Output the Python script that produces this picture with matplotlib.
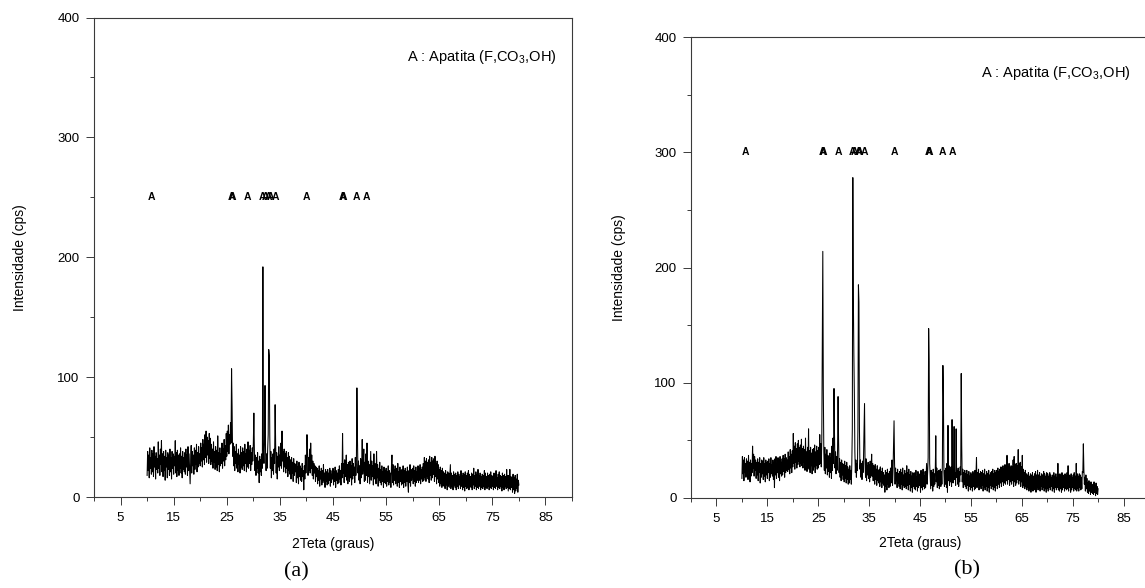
import numpy as np
import matplotlib
matplotlib.use("Agg")
import matplotlib.pyplot as plt
from matplotlib.ticker import FixedLocator, MultipleLocator

plt.rcParams['font.family'] = ['Liberation Sans', 'DejaVu Sans']
plt.rcParams['mathtext.fontset'] = 'custom'
plt.rcParams['mathtext.rm'] = 'Liberation Sans'
plt.rcParams['mathtext.default'] = 'regular'

# 2-theta grid: 10.0 .. 80.0 deg, step 0.1
two_theta_start = 10.0
two_theta_step = 0.1

# Pattern (a) intensities (cps), one row per degree (10.0 -> 79.9), then 80.0
intens_a = [
    18, 38, 22, 35, 16, 41, 24, 33, 19, 39,
    21, 36, 17, 42, 25, 34, 15, 37, 23, 32,
    20, 46, 24, 35, 18, 40, 27, 47, 21, 36,
    17, 38, 22, 34, 14, 39, 25, 33, 16, 37,
    23, 35, 18, 40, 21, 33, 15, 38, 24, 36,
    19, 34, 26, 47, 20, 37, 17, 39, 22, 35,
    18, 36, 24, 41, 20, 34, 16, 38, 23, 33,
    21, 37, 19, 40, 25, 35, 18, 42, 22, 36,
    24, 11, 30, 43, 20, 38, 26, 35, 19, 41,
    23, 39, 27, 44, 21, 37, 25, 42, 28, 36,
    26, 45, 30, 41, 25, 48, 31, 44, 27, 52,
    33, 55, 29, 50, 35, 47, 28, 53, 32, 49,
    27, 44, 30, 40, 24, 46, 29, 38, 23, 42,
    25, 39, 22, 51, 27, 37, 21, 41, 26, 36,
    28, 45, 24, 40, 30, 48, 26, 43, 31, 53,
    34, 55, 38, 60, 36, 52, 44, 62, 45, 107,
    75, 34, 45, 26, 42, 22, 38, 28, 44, 24,
    36, 21, 40, 27, 35, 20, 42, 25, 37, 23,
    41, 26, 38, 22, 44, 28, 36, 21, 40, 25,
    46, 24, 39, 28, 43, 22, 37, 27, 41, 30,
    45, 70, 38, 22, 35, 18, 33, 24, 37, 20,
    30, 12, 34, 21, 31, 18, 36, 24, 192, 40,
    28, 45, 93, 38, 22, 36, 24, 40, 52, 123,
    118, 50, 24, 38, 16, 33, 22, 36, 19, 40,
    28, 77, 45, 20, 37, 15, 34, 25, 42, 22,
    35, 26, 45, 24, 55, 30, 38, 21, 40, 25,
    36, 20, 38, 24, 33, 17, 37, 22, 34, 19,
    31, 15, 33, 20, 29, 13, 32, 18, 28, 21,
    27, 12, 30, 16, 25, 11, 29, 17, 26, 14,
    24, 13, 28, 17, 22, 6, 26, 15, 35, 20,
    30, 52, 38, 18, 33, 22, 40, 20, 45, 24,
    35, 18, 30, 15, 28, 20, 26, 13, 25, 17,
    24, 11, 22, 14, 26, 9, 21, 15, 24, 10,
    22, 12, 27, 14, 20, 8, 23, 13, 21, 10,
    23, 11, 20, 14, 24, 9, 22, 12, 19, 15,
    24, 10, 21, 13, 25, 8, 22, 14, 20, 11,
    23, 12, 26, 15, 22, 10, 28, 16, 53, 20,
    28, 12, 31, 17, 25, 35, 14, 27, 11, 29,
    24, 13, 30, 16, 26, 10, 32, 15, 28, 18,
    25, 12, 33, 18, 27, 91, 50, 20, 30, 14,
    26, 11, 32, 16, 24, 48, 19, 28, 40, 13,
    29, 14, 36, 18, 45, 12, 30, 17, 27, 11,
    25, 38, 14, 30, 17, 26, 10, 36, 15, 28,
    22, 11, 38, 16, 27, 9, 24, 14, 29, 12,
    23, 10, 26, 13, 21, 8, 25, 12, 22, 11,
    24, 9, 21, 13, 26, 10, 22, 12, 20, 8,
    25, 35, 12, 27, 10, 23, 14, 26, 11, 22,
    24, 9, 28, 12, 21, 8, 25, 13, 22, 10,
    23, 11, 26, 8, 22, 12, 24, 9, 21, 13,
    25, 10, 4, 22, 12, 27, 9, 23, 14, 20,
    24, 11, 26, 13, 22, 9, 25, 12, 21, 14,
    26, 12, 24, 14, 27, 11, 23, 15, 25, 13,
    28, 14, 33, 16, 30, 13, 32, 17, 29, 15,
    31, 12, 34, 18, 29, 14, 33, 16, 30, 19,
    32, 13, 34, 17, 28, 11, 30, 15, 27, 12,
    23, 9, 25, 11, 22, 8, 24, 10, 21, 9,
    20, 7, 22, 10, 19, 6, 21, 9, 20, 8,
    18, 27, 7, 20, 9, 18, 6, 21, 10, 19,
    8, 20, 6, 18, 9, 21, 7, 19, 10, 17,
    7, 22, 9, 18, 6, 20, 8, 19, 5, 21,
    9, 18, 7, 20, 8, 22, 6, 19, 9, 17,
    8, 20, 6, 19, 10, 24, 7, 18, 9, 21,
    6, 19, 8, 23, 7, 18, 9, 20, 6, 17,
    8, 19, 7, 18, 9, 22, 6, 20, 8, 17,
    7, 20, 9, 18, 6, 19, 8, 21, 7, 18,
    9, 17, 6, 20, 8, 19, 7, 22, 9, 16,
    6, 19, 8, 21, 7, 18, 9, 17, 5, 20,
    8, 18, 6, 19, 9, 17, 7, 23, 8, 18,
    5, 18, 7, 23, 6, 17, 8, 16, 4, 19,
    6, 16, 3, 18, 5, 15, 7, 19, 4, 14,
    10,
]

# Pattern (b) intensities (cps)
intens_b = [
    17, 36, 21, 33, 15, 35, 22, 30, 18, 34,
    20, 32, 16, 37, 23, 31, 14, 33, 19, 30,
    22, 45, 26, 38, 19, 36, 24, 33, 17, 31,
    20, 34, 15, 31, 22, 35, 13, 30, 18, 33,
    21, 32, 16, 35, 19, 30, 14, 33, 20, 31,
    17, 32, 22, 34, 15, 30, 18, 35, 21, 29,
    19, 33, 16, 31, 9, 34, 20, 36, 17, 30,
    22, 35, 18, 33, 15, 36, 21, 31, 19, 34,
    20, 37, 23, 34, 18, 38, 22, 35, 24, 33,
    23, 40, 25, 36, 21, 42, 26, 38, 22, 41,
    27, 56, 30, 45, 25, 48, 31, 43, 26, 47,
    29, 50, 32, 44, 27, 46, 30, 51, 28, 43,
    26, 45, 31, 42, 24, 52, 29, 40, 23, 44,
    27, 60, 25, 41, 22, 44, 28, 39, 21, 42,
    24, 43, 27, 46, 22, 40, 28, 45, 25, 41,
    26, 44, 29, 55, 30, 47, 27, 50, 130, 214,
    95, 40, 24, 44, 21, 38, 26, 42, 20, 37,
    23, 36, 18, 39, 22, 35, 17, 45, 24, 52,
    30, 95, 55, 26, 40, 21, 36, 24, 42, 88,
    50, 22, 34, 18, 31, 15, 33, 20, 30, 16,
    29, 14, 32, 17, 28, 13, 31, 16, 27, 12,
    25, 13, 28, 16, 24, 12, 30, 60, 278, 175,
    125, 90, 40, 22, 33, 18, 30, 24, 60, 185,
    170, 60, 25, 33, 18, 30, 16, 32, 22, 35,
    58, 82, 30, 18, 34, 15, 28, 20, 31, 17,
    29, 14, 32, 18, 27, 38, 19, 30, 15, 28,
    26, 12, 29, 16, 25, 11, 28, 15, 24, 13,
    25, 10, 27, 14, 23, 9, 26, 13, 22, 11,
    20, 5, 24, 10, 22, 7, 25, 12, 21, 9,
    23, 10, 26, 13, 22, 33, 11, 24, 48, 67,
    30, 12, 26, 15, 22, 9, 25, 13, 21, 10,
    23, 8, 25, 12, 22, 7, 26, 11, 20, 9,
    24, 10, 21, 8, 28, 11, 22, 7, 25, 12,
    20, 6, 23, 9, 19, 5, 22, 10, 21, 8,
    22, 7, 24, 10, 18, 6, 23, 9, 20, 11,
    21, 5, 24, 9, 22, 7, 25, 10, 19, 8,
    23, 9, 20, 30, 12, 22, 35, 147, 118, 30,
    20, 8, 24, 11, 22, 6, 25, 10, 21, 12,
    22, 54, 14, 26, 9, 23, 11, 24, 8, 21,
    25, 10, 23, 12, 30, 115, 88, 22, 10, 24,
    12, 26, 9, 30, 5, 63, 15, 28, 11, 24,
    14, 27, 10, 68, 20, 13, 25, 62, 16, 22,
    11, 60, 18, 24, 12, 26, 10, 23, 14, 27,
    20, 108, 45, 14, 25, 9, 22, 12, 24, 10,
    21, 8, 24, 11, 20, 6, 23, 10, 19, 7,
    22, 9, 20, 6, 23, 10, 21, 7, 24, 8,
    20, 35, 9, 22, 11, 25, 7, 21, 10, 23,
    8, 22, 11, 24, 6, 21, 9, 25, 7, 20,
    10, 23, 6, 21, 9, 24, 5, 20, 11, 22,
    8, 23, 10, 25, 7, 21, 9, 24, 6, 22,
    11, 24, 8, 26, 12, 23, 9, 25, 13, 27,
    10, 26, 14, 28, 11, 25, 13, 29, 12, 27,
    15, 37, 12, 27, 16, 30, 11, 26, 14, 28,
    12, 27, 15, 33, 10, 36, 14, 29, 11, 30,
    13, 28, 16, 42, 12, 30, 15, 31, 10, 27,
    14, 37, 9, 25, 11, 22, 8, 24, 10, 21,
    7, 20, 9, 22, 6, 19, 8, 21, 5, 20,
    8, 22, 6, 19, 9, 21, 7, 23, 5, 20,
    9, 24, 7, 20, 8, 22, 6, 19, 10, 21,
    7, 20, 9, 23, 6, 21, 8, 19, 5, 22,
    8, 21, 6, 19, 9, 22, 7, 20, 10, 18,
    6, 20, 8, 22, 5, 19, 9, 21, 7, 18,
    9, 30, 7, 20, 6, 21, 8, 19, 5, 22,
    7, 20, 9, 18, 6, 21, 8, 19, 7, 22,
    8, 28, 6, 20, 9, 19, 5, 21, 7, 18,
    9, 20, 6, 22, 8, 19, 7, 30, 6, 21,
    8, 19, 6, 21, 9, 20, 7, 18, 8, 23,
    22, 47, 25, 12, 18, 6, 20, 8, 17, 5,
    13, 4, 15, 6, 12, 3, 14, 5, 11, 4,
    12, 3, 14, 5, 11, 2, 13, 4, 10, 3,
    8,
]

# Apatite reflection marks (2-theta positions)
apatite_marks = [10.8, 25.9, 26.0, 28.9, 31.8, 32.2, 32.9, 33.2, 34.1,
                 40.0, 46.7, 46.9, 49.5, 51.3]
mark_level_a = 250
mark_level_b = 300

x_major_ticks = [5, 15, 25, 35, 45, 55, 65, 75, 85]
y_major_ticks = [0, 100, 200, 300, 400]

legend_text = r'A : Apatita (F,CO$_3$,OH)'
xlabel_text = '2Teta (graus)'
ylabel_text = 'Intensidade (cps)'

W, H = 1145, 588
fig = plt.figure(figsize=(W / 100, H / 100), dpi=100)


def px_axes(x0, x1, ytop, ybot):
    return [x0 / W, (H - ybot) / H, (x1 - x0) / W, (ybot - ytop) / H]


ax_a = fig.add_axes(px_axes(94, 572, 17.5, 497))
ax_b = fig.add_axes(px_axes(691, 1149, 37, 498))

spine_col = '#3a3a3a'


def draw(ax, intens, mark_level, text_x, text_y, ylab_x):
    tt = two_theta_start + two_theta_step * np.arange(len(intens))
    ax.plot(tt, intens, color='black', lw=0.75)
    for m in apatite_marks:
        ax.text(m, mark_level, 'A', ha='center', va='center', fontsize=7.5,
                fontweight='bold', color='black')
    ax.text(text_x, text_y, legend_text, ha='right', va='center', fontsize=10.5)
    ax.set_xlim(0, 90)
    ax.set_ylim(0, 400)
    ax.xaxis.set_major_locator(FixedLocator(x_major_ticks))
    ax.xaxis.set_minor_locator(MultipleLocator(10))
    ax.yaxis.set_major_locator(FixedLocator(y_major_ticks))
    ax.yaxis.set_minor_locator(MultipleLocator(50))
    ax.tick_params(which='major', direction='out', length=5.5, width=0.7,
                   color=spine_col, labelsize=9.5, pad=5)
    ax.tick_params(which='minor', direction='out', length=3, width=0.7,
                   color=spine_col)
    for s in ax.spines.values():
        s.set_color(spine_col)
        s.set_linewidth(0.8)
    ax.set_xlabel(xlabel_text, fontsize=10, va='center')
    ax.xaxis.set_label_coords(0.5, -0.097)
    ax.set_ylabel(ylabel_text, fontsize=10, va='center')
    ax.yaxis.set_label_coords(ylab_x, 0.5)


draw(ax_a, intens_a, mark_level_a, 87.0, 367, -0.155)
draw(ax_b, intens_b, mark_level_b, 86.3, 369, -0.157)

fig.text(296 / W, 1 - 572 / H, '(a)', ha='center', va='center', fontsize=16,
         family=['Liberation Serif', 'DejaVu Serif'])
fig.text(967 / W, 1 - 570 / H, '(b)', ha='center', va='center', fontsize=16,
         family=['Liberation Serif', 'DejaVu Serif'])

fig.savefig('out.png', dpi=100)
